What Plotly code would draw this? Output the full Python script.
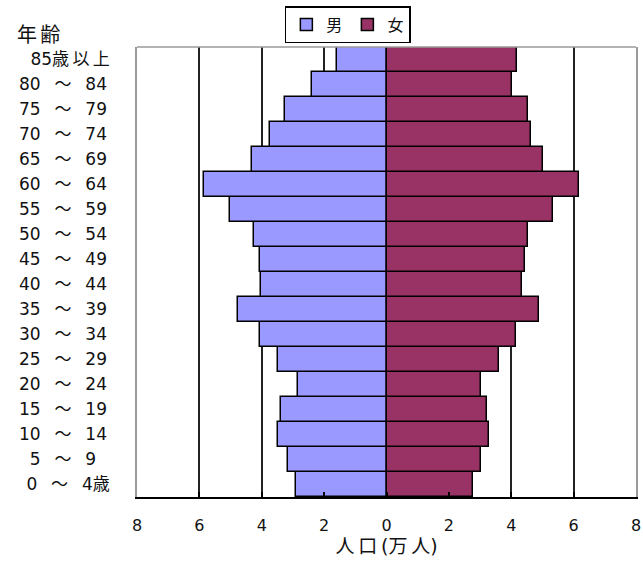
import plotly.graph_objects as go

S = " \u2002"  # gap around the wave dash
F = "\u2007"   # figure space (digit width)
T = "\u2006"   # small trailing pad
ages = [F + "0" + S + "～" + S + "4歳",
        F + "5" + S + "～" + S + "9" + F + T,
        "10" + S + "～" + S + "14" + T,
        "15" + S + "～" + S + "19" + T,
        "20" + S + "～" + S + "24" + T,
        "25" + S + "～" + S + "29" + T,
        "30" + S + "～" + S + "34" + T,
        "35" + S + "～" + S + "39" + T,
        "40" + S + "～" + S + "44" + T,
        "45" + S + "～" + S + "49" + T,
        "50" + S + "～" + S + "54" + T,
        "55" + S + "～" + S + "59" + T,
        "60" + S + "～" + S + "64" + T,
        "65" + S + "～" + S + "69" + T,
        "70" + S + "～" + S + "74" + T,
        "75" + S + "～" + S + "79" + T,
        "80" + S + "～" + S + "84" + T,
        "85歳\u2009以\u2009上"]
male = [2.90, 3.15, 3.47, 3.39, 2.83, 3.47, 4.05, 4.75, 4.03, 4.05, 4.24, 5.02,
        5.85, 4.30, 3.73, 3.27, 2.38, 1.60]
female = [2.76, 3.02, 3.28, 3.21, 3.02, 3.60, 4.15, 4.89, 4.36, 4.44, 4.55, 5.33,
          6.17, 5.01, 4.62, 4.55, 4.01, 4.17]
xtick_vals = [-8, -6, -4, -2, 0, 2, 4, 6, 8]
xtick_text = ["8", "6", "4", "2", "0", "2", "4", "6", "8"]

FONT = "DejaVu Sans, Noto Sans CJK JP, sans-serif"

fig = go.Figure()
fig.add_trace(go.Bar(y=ages, x=[-v for v in male], orientation="h", name="男",
                     marker=dict(color="#9999FF", line=dict(color="#000000", width=1.5))))
fig.add_trace(go.Bar(y=ages, x=female, orientation="h", name="女",
                     marker=dict(color="#993366", line=dict(color="#000000", width=1.5))))

fig.update_layout(
    width=643, height=562,
    margin=dict(l=137, r=7, t=47, b=65, autoexpand=False),
    paper_bgcolor="white", plot_bgcolor="white",
    barmode="overlay", bargap=0,
    font=dict(family=FONT, color="#222222"),
    showlegend=True,
    legend=dict(orientation="h", xref="container", yref="container",
                x=0.541, xanchor="center", y=0.989, yanchor="top",
                bordercolor="#000000", borderwidth=1.5,
                font=dict(size=16, family=FONT, color="#111111"),
                itemwidth=30, traceorder="normal", tracegroupgap=0),
    xaxis=dict(range=[-8, 8], tickmode="array", tickvals=xtick_vals, ticktext=xtick_text,
               showgrid=True, gridcolor="#222222", gridwidth=1.5, zeroline=False,
               showline=True, linecolor="#000000", linewidth=1.5, mirror=False,
               ticks="inside", ticklen=5, tickwidth=1.5, tickcolor="#000000",
               tickfont=dict(size=16, family=FONT, color="#111111"),
               ticklabelstandoff=13,
               title=dict(text="人\u2009口\u2009(万\u2009人)",
                          font=dict(size=19, family=FONT, color="#111111"),
                          standoff=4),
               fixedrange=True),
    yaxis=dict(showgrid=False, zeroline=False, showline=True, linecolor="#9a9a9a",
               linewidth=1.5, mirror=True, ticks="", ticklabelstandoff=22,
               tickfont=dict(size=17, family=FONT, color="#111111"),
               categoryorder="array", categoryarray=ages, fixedrange=True),
)

fig.add_shape(type="line", xref="paper", yref="paper", x0=0, x1=1, y0=1, y1=1,
              line=dict(color="#9a9a9a", width=1.5))

fig.add_annotation(text="年\u2006齢", xref="paper", yref="paper", x=-0.245, y=1.027,
                   xanchor="left", yanchor="middle", showarrow=False,
                   font=dict(size=20, family=FONT, color="#111111"))

fig.write_html("out.html")
